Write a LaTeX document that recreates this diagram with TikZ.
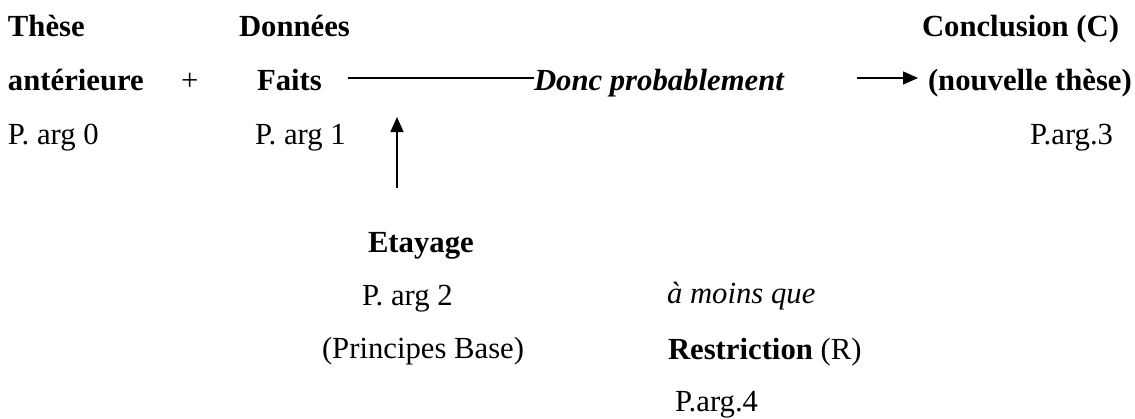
\documentclass[tikz,border=0pt]{standalone}
\usepackage{fontspec}
\setmainfont{Liberation Serif}
\usetikzlibrary{arrows.meta}
\begin{document}
\begin{tikzpicture}[x=1pt,y=-1pt,
  lbl/.style={anchor=base west,inner sep=0pt,outer sep=0pt,
    font=\fontsize{30.7pt}{36pt}\selectfont},
  blbl/.style={lbl,font=\fontsize{30.7pt}{36pt}\selectfont\bfseries},
  link/.style={line width=1.4pt},
  arr/.style={link,-{Triangle[length=15pt,width=13pt]}}]
\useasboundingbox (0,0) rectangle (1135,418);

% premises and conclusion row
\node[blbl] (these)   at (8,36)   {Thèse};
\node[blbl] (anter)   at (8,90)   {antérieure};
\node[lbl]  (parg0)   at (8,144)  {P. arg 0};
\node[lbl]  (plus)    at (181,90) {+};
\node[blbl] (donnees) at (239,36) {Données};
\node[blbl] (faits)   at (257,90) {Faits};
\node[lbl]  (parg1)   at (255,144) {P. arg 1};
\node[lbl,font=\fontsize{30.7pt}{36pt}\selectfont\bfseries\itshape] (donc) at (534,90) {Donc probablement};
\node[blbl] (concl)   at (922,36) {Conclusion (C)};
\node[blbl] (nouv)    at (928,90) {(nouvelle thèse)};
\node[lbl]  (parg3)   at (1030,144) {P.arg.3};

% support and restriction
\node[blbl] (etayage) at (368,252) {Etayage};
\node[lbl]  (parg2)   at (362,305) {P. arg 2};
\node[lbl]  (princ)   at (322,358) {(Principes Base)};
\node[lbl,font=\fontsize{30.7pt}{36pt}\selectfont\itshape] (amoins) at (667,303) {à moins que};
\node[lbl]  (restr)   at (668,359) {\textbf{Restriction} (R)};
\node[lbl]  (parg4)   at (675,411) {P.arg.4};

% connectors
\coordinate (row) at (0,78);
\coordinate (upfoot) at (397,188);
\coordinate (uptip) at (397,117);
\draw[link] ([xshift=26pt]faits.east |- row) -- (donc.west |- row);
\draw[arr] ([xshift=73pt]donc.east |- row) -- ([xshift=-10pt]nouv.west |- row);
\draw[arr] (upfoot) -- (uptip);
\end{tikzpicture}
\end{document}
